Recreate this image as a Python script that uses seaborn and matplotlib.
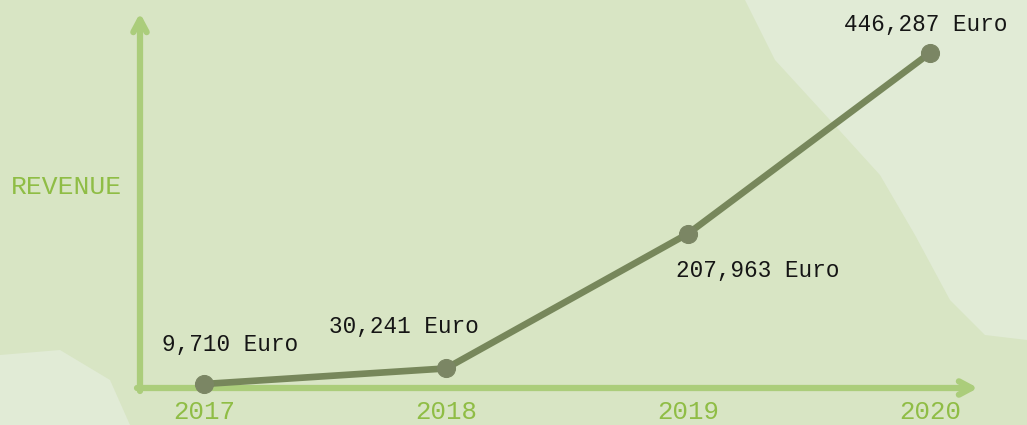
import matplotlib
matplotlib.use("Agg")
import matplotlib.pyplot as plt
from matplotlib.patches import Polygon
import seaborn as sns
import pandas as pd

years = [2017, 2018, 2019, 2020]
revenue = [9710, 30241, 207963, 446287]
value_labels = ["9,710 Euro", "30,241 Euro", "207,963 Euro", "446,287 Euro"]
# label offsets from each point, in pixels
label_offsets = [(26, 40), (-42, 42), (70, -37), (-4, 28)]
axis_title = "REVENUE"

bg_green = "#d8e5c4"
bg_light = "#e1ebd6"
axis_green = "#abcd7b"
tick_green = "#8fbd45"
line_color = "#77875b"
marker_color = "#7b8664"

sns.set_theme(style="white")
plt.rcParams["font.family"] = ["Liberation Mono", "DejaVu Sans Mono"]

fig = plt.figure(figsize=(10.27, 4.25), dpi=100)
fig.patch.set_facecolor(bg_green)

# lighter wash on the right, like the watercolor in the reference
W, H = 1027, 425
wash = [(745, 0), (775, 60), (830, 120), (880, 175), (915, 235), (950, 300),
        (985, 335), (1027, 340), (1027, 0)]
wash2 = [(0, 355), (60, 350), (110, 380), (130, 425), (0, 425)]
for shape in (wash, wash2):
    fig.patches.append(Polygon([(x / W, 1 - y / H) for x, y in shape], closed=True,
                               transform=fig.transFigure, facecolor=bg_light,
                               edgecolor="none", zorder=-5))

ax = fig.add_axes([0, 0, 1, 1])
ax.set_zorder(2)
ax.set_facecolor("none")
ax.set_xlim(2016.157, 2020.401)
ax.set_ylim(-44365, 516173)
for s in ax.spines.values():
    s.set_visible(False)
ax.set_xticks([])
ax.set_yticks([])

# axis arrows (open chevron heads)
arrow_kw = dict(arrowstyle="->,head_length=0.75,head_width=0.4", color=axis_green,
                lw=4.5, shrinkA=0, shrinkB=0, capstyle="round", joinstyle="round")
ax.annotate("", xy=(140 / W, 1 - 13 / H), xytext=(140 / W, 1 - 391 / H),
            xycoords="axes fraction", arrowprops=arrow_kw)
ax.annotate("", xy=(978 / W, 1 - 388 / H), xytext=(137 / W, 1 - 388 / H),
            xycoords="axes fraction", arrowprops=arrow_kw)

df = pd.DataFrame({"year": years, "revenue": revenue})
sns.lineplot(data=df, x="year", y="revenue", ax=ax, color=line_color, lw=4.8,
             marker="o", markersize=13, markerfacecolor=marker_color,
             markeredgecolor=marker_color, zorder=5)

for yr, val, lab, off in zip(years, revenue, value_labels, label_offsets):
    ax.annotate(lab, xy=(yr, val), xytext=off, textcoords="offset pixels",
                ha="center", va="center", fontsize=16.3, color="#151515")
    ax.annotate(str(yr), xy=(yr, 0), xycoords=("data", "axes fraction"),
                xytext=(0, 13), textcoords="offset pixels",
                ha="center", va="center", fontsize=18.5, color=tick_green)

ax.text(66 / W, 1 - 187 / H, axis_title, transform=ax.transAxes, ha="center",
        va="center", fontsize=19, color=tick_green)
ax.set_xlabel("")
ax.set_ylabel("")

fig.savefig("out.png", dpi=100, facecolor=fig.get_facecolor())
